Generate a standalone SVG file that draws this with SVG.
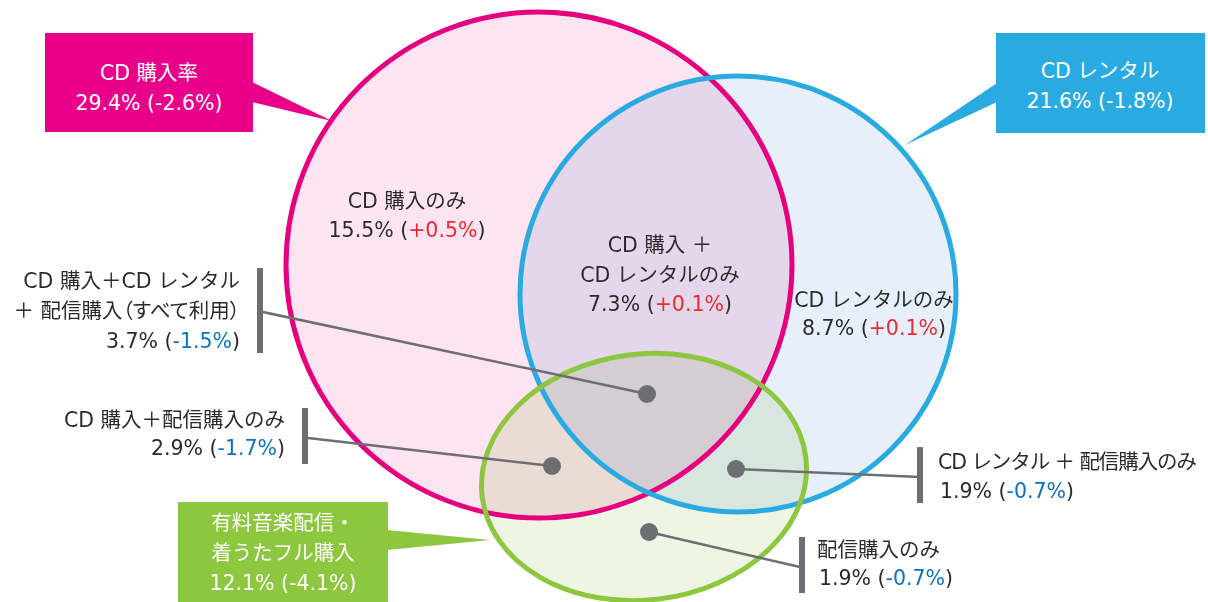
<svg xmlns="http://www.w3.org/2000/svg" width="1208" height="602" viewBox="0 0 1208 602">
<style>
  text { font-family: "DejaVu Sans", "Noto Sans CJK JP", sans-serif; font-size: 20.5px; fill: #2b2b2b; }
  .w { fill: #ffffff; }
  .mid { text-anchor: middle; }
  .end { text-anchor: end; }
  .r { fill: #ee2a31; }
  .b { fill: #0a74c0; }
  .palt { font-feature-settings: "palt"; }
  .fill { mix-blend-mode: multiply; stroke: none; }
  .ring { fill: none; stroke-width: 5; }
  .lead { stroke: #6d6e71; stroke-width: 2.5; fill: none; }
  .dot { fill: #6d6e71; }
  .bar { fill: #6d6e71; }
</style>
<rect width="1208" height="602" fill="#ffffff"/>
<g id="fills" style="isolation:isolate">
  <circle class="fill" cx="539" cy="265" r="253" fill="#fce4f0"/>
  <circle class="fill" cx="738" cy="294" r="218" fill="#e7f0fa"/>
  <ellipse class="fill" cx="644" cy="477" rx="163" ry="123" transform="rotate(-7 644 477)" fill="#eef5e3"/>
</g>
<g id="set-cd-purchase">
  <circle class="ring" cx="539" cy="265" r="253" stroke="#e5007f"/>
  <rect x="45" y="33" width="208" height="99" fill="#e8008a"/>
  <polygon points="252,82 332,121 252,102" fill="#e8008a"/>
  <text class="w mid" x="149" y="80">CD 購入率</text>
  <text class="w mid" x="149" y="110">29.4% (-2.6%)</text>
</g>
<g id="set-cd-rental">
  <circle class="ring" cx="738" cy="294" r="218" stroke="#29abe2"/>
  <rect x="996" y="33" width="209" height="100" fill="#29abe2"/>
  <polygon points="997,83 905,145 997,102" fill="#29abe2"/>
  <text class="w mid" x="1100" y="78">CD レンタル</text>
  <text class="w mid" x="1100" y="108">21.6% (-1.8%)</text>
</g>
<g id="set-download">
  <ellipse class="ring" cx="644" cy="477" rx="163" ry="123" transform="rotate(-7 644 477)" stroke="#8dc63f"/>
  <rect x="178" y="502" width="210" height="100" fill="#8dc63f"/>
  <polygon points="387,530 490,540 387,550" fill="#8dc63f"/>
  <text class="w mid" x="283" y="530">有料音楽配信・</text>
  <text class="w mid" x="283" y="560">着うたフル購入</text>
  <text class="w mid" x="283" y="590">12.1% (-4.1%)</text>
</g>
<g id="region-cd-only">
  <text class="mid" x="407" y="208">CD 購入のみ</text>
  <text class="mid" x="407" y="237">15.5% (<tspan class="r">+0.5%</tspan>)</text>
</g>
<g id="region-cd-rental">
  <text class="mid" x="660" y="252">CD 購入 ＋</text>
  <text class="mid" x="660" y="282">CD レンタルのみ</text>
  <text class="mid" x="660" y="311">7.3% (<tspan class="r">+0.1%</tspan>)</text>
</g>
<g id="region-rental-only">
  <text class="mid" x="874" y="307">CD レンタルのみ</text>
  <text class="mid" x="874" y="335">8.7% (<tspan class="r">+0.1%</tspan>)</text>
</g>
<g id="connectors">
  <line class="lead" x1="263" y1="312" x2="647" y2="394"/>
  <line class="lead" x1="308" y1="438" x2="552" y2="466"/>
  <line class="lead" x1="736" y1="469" x2="920" y2="477"/>
  <line class="lead" x1="649" y1="532" x2="800" y2="567"/>
</g>
<g id="label-all">
  <circle class="dot" cx="647" cy="394" r="9"/>
  <rect class="bar" x="257" y="268" width="6" height="85"/>
  <text class="end" x="240" y="288">CD 購入＋CD レンタル</text>
  <text class="end palt" x="240" y="318">＋ 配信購入（すべて利用）</text>
  <text class="end" x="240" y="348">3.7% (<tspan class="b">-1.5%</tspan>)</text>
</g>
<g id="label-cd-download">
  <circle class="dot" cx="552" cy="466" r="9"/>
  <rect class="bar" x="302" y="408" width="6" height="56"/>
  <text class="end" x="285" y="427">CD 購入＋配信購入のみ</text>
  <text class="end" x="285" y="455">2.9% (<tspan class="b">-1.7%</tspan>)</text>
</g>
<g id="label-rental-download">
  <circle class="dot" cx="736" cy="469" r="9"/>
  <rect class="bar" x="917" y="447" width="6" height="56"/>
  <text x="938" y="469" textLength="259">CD レンタル ＋ 配信購入のみ</text>
  <text x="940" y="498">1.9% (<tspan class="b">-0.7%</tspan>)</text>
</g>
<g id="label-download-only">
  <circle class="dot" cx="649" cy="532" r="9"/>
  <rect class="bar" x="799" y="537" width="6" height="56"/>
  <text x="817" y="557">配信購入のみ</text>
  <text x="819" y="585">1.9% (<tspan class="b">-0.7%</tspan>)</text>
</g>
</svg>
